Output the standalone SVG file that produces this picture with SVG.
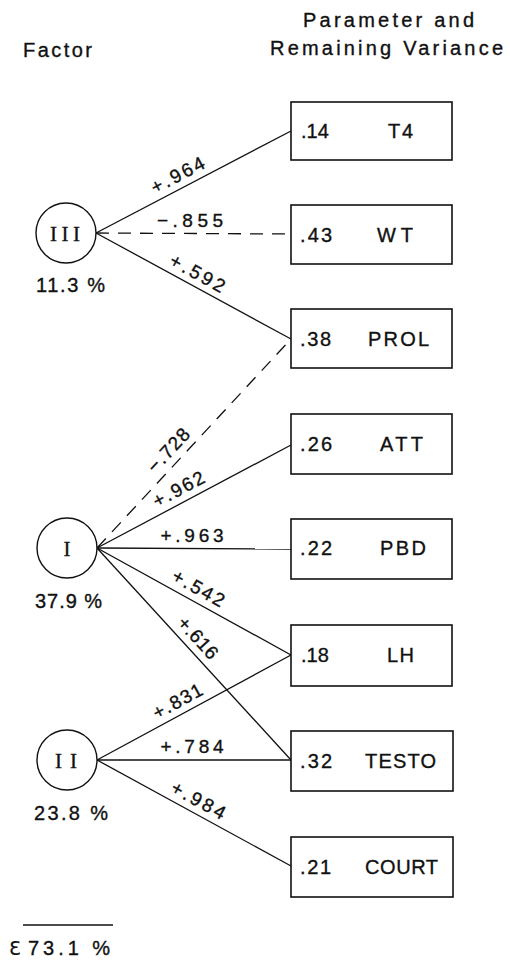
<svg xmlns="http://www.w3.org/2000/svg" width="510" height="961" viewBox="0 0 510 961">
<style>
  .t { font-family: "Liberation Sans", Arial, sans-serif; font-size: 20px; fill: #111; stroke: #111; stroke-width: 0.35; }
  .lbl { font-family: "Liberation Sans", Arial, sans-serif; font-size: 19px; fill: #111; stroke: #111; stroke-width: 0.35; }
  .rn { font-family: "Liberation Serif", "Times New Roman", serif; font-size: 21px; fill: #111; stroke: #111; stroke-width: 0.3; }
  .sig { font-family: "DejaVu Sans", sans-serif; font-size: 19px; fill: #111; stroke: #111; stroke-width: 0.2; }
  .box { fill: #fff; stroke: #111; stroke-width: 1.6; }
  .circ { fill: #fff; stroke: #111; stroke-width: 1.4; }
  .ln { stroke: #111; stroke-width: 1.3; fill: none; }
  .dash { stroke-dasharray: 13 9; }
</style>
<rect width="510" height="961" fill="#fff"/>

<g id="headers">
  <text class="t" x="23" y="57" textLength="69" lengthAdjust="spacing">Factor</text>
  <text class="t" x="303" y="27" textLength="171" lengthAdjust="spacing">Parameter and</text>
  <text class="t" x="270" y="55" textLength="233" lengthAdjust="spacing">Remaining Variance</text>
</g>

<g id="connectors">
  <line class="ln" x1="96" y1="233" x2="291" y2="131"/>
  <line class="ln dash" x1="96" y1="233" x2="291" y2="234"/>
  <line class="ln" x1="96" y1="233" x2="291" y2="339"/>
  <line class="ln dash" x1="97" y1="548" x2="291" y2="339"/>
  <line class="ln" x1="97" y1="548" x2="291" y2="445"/>
  <line class="ln" x1="97" y1="548" x2="291" y2="549"/>
  <line class="ln" x1="97" y1="548" x2="291" y2="655"/>
  <line class="ln" x1="97" y1="548" x2="291" y2="760"/>
  <line class="ln" x1="97" y1="760" x2="291" y2="655"/>
  <line class="ln" x1="97" y1="760" x2="291" y2="760"/>
  <line class="ln" x1="97" y1="760" x2="291" y2="866"/>

  <text class="lbl" text-anchor="middle" transform="translate(184,187) rotate(-27.6)" y="-7" textLength="58" lengthAdjust="spacing">+.964</text>
  <text class="lbl" text-anchor="middle" x="190" y="227" textLength="66" lengthAdjust="spacing">−.855</text>
  <text class="lbl" text-anchor="middle" transform="translate(191,285) rotate(28.8)" y="-7" textLength="60" lengthAdjust="spacing">+.592</text>
  <text class="lbl" text-anchor="middle" transform="translate(179,460) rotate(-47)" y="-8" textLength="53" lengthAdjust="spacing">−.728</text>
  <text class="lbl" text-anchor="middle" transform="translate(185,501) rotate(-28)" y="-7" textLength="56" lengthAdjust="spacing">+.962</text>
  <text class="lbl" text-anchor="middle" x="192" y="542" textLength="63" lengthAdjust="spacing">+.963</text>
  <text class="lbl" text-anchor="middle" transform="translate(192,600) rotate(28.9)" y="-7" textLength="57" lengthAdjust="spacing">+.542</text>
  <text class="lbl" text-anchor="middle" transform="translate(188,647) rotate(47.5)" y="-7" textLength="50" lengthAdjust="spacing">+.616</text>
  <text class="lbl" text-anchor="middle" transform="translate(184,713) rotate(-28.4)" y="-7" textLength="54" lengthAdjust="spacing">+.831</text>
  <text class="lbl" text-anchor="middle" x="192" y="753" textLength="63" lengthAdjust="spacing">+.784</text>
  <text class="lbl" text-anchor="middle" transform="translate(192,812) rotate(28.6)" y="-7" textLength="59" lengthAdjust="spacing">+.984</text>
</g>

<g id="factor-III">
  <circle class="circ" cx="66" cy="233" r="30"/>
  <text class="rn" text-anchor="middle" x="65" y="241" textLength="30" lengthAdjust="spacing">III</text>
  <text class="t" x="36" y="292" textLength="69" lengthAdjust="spacing">11.3 %</text>
</g>
<g id="factor-I">
  <circle class="circ" cx="67" cy="548" r="30"/>
  <text class="rn" text-anchor="middle" x="67" y="556">I</text>
  <text class="t" x="35" y="608" textLength="67" lengthAdjust="spacing">37.9 %</text>
</g>
<g id="factor-II">
  <circle class="circ" cx="67" cy="760" r="30"/>
  <text class="rn" text-anchor="middle" x="66" y="768" textLength="22" lengthAdjust="spacing">II</text>
  <text class="t" x="34" y="820" textLength="74" lengthAdjust="spacing">23.8 %</text>
</g>

<g id="param-T4">
  <rect class="box" x="291" y="102" width="161" height="58"/>
  <text class="t" x="301" y="138">.14</text>
  <text class="t" x="388" y="138" textLength="25" lengthAdjust="spacing">T4</text>
</g>
<g id="param-WT">
  <rect class="box" x="291" y="205" width="161" height="59"/>
  <text class="t" x="300" y="242" textLength="32" lengthAdjust="spacing">.43</text>
  <text class="t" x="377" y="242" textLength="36" lengthAdjust="spacing">WT</text>
</g>
<g id="param-PROL">
  <rect class="box" x="291" y="309" width="161" height="59"/>
  <text class="t" x="300" y="346" textLength="31" lengthAdjust="spacing">.38</text>
  <text class="t" x="368" y="346" textLength="61" lengthAdjust="spacing">PROL</text>
</g>
<g id="param-ATT">
  <rect class="box" x="291" y="414" width="161" height="60"/>
  <text class="t" x="300" y="451" textLength="32" lengthAdjust="spacing">.26</text>
  <text class="t" x="380" y="451" textLength="43" lengthAdjust="spacing">ATT</text>
</g>
<g id="param-PBD">
  <rect class="box" x="291" y="519" width="161" height="60"/>
  <text class="t" x="300" y="555" textLength="32" lengthAdjust="spacing">.22</text>
  <text class="t" x="380" y="555" textLength="46" lengthAdjust="spacing">PBD</text>
</g>
<g id="param-LH">
  <rect class="box" x="291" y="625" width="161" height="61"/>
  <text class="t" x="301" y="662">.18</text>
  <text class="t" x="387" y="662" textLength="27" lengthAdjust="spacing">LH</text>
</g>
<g id="param-TESTO">
  <rect class="box" x="291" y="731" width="162" height="60"/>
  <text class="t" x="300" y="768" textLength="32" lengthAdjust="spacing">.32</text>
  <text class="t" x="365" y="768" textLength="71" lengthAdjust="spacing">TESTO</text>
</g>
<g id="param-COURT">
  <rect class="box" x="291" y="837" width="162" height="60"/>
  <text class="t" x="300" y="874" textLength="31" lengthAdjust="spacing">.21</text>
  <text class="t" x="365" y="874" textLength="73" lengthAdjust="spacing">COURT</text>
</g>

<g id="total">
  <line class="ln" x1="23" y1="925" x2="113" y2="925"/>
  <text class="sig" x="9" y="955">Ɛ</text>
  <text class="t" x="28" y="955" textLength="82" lengthAdjust="spacing">73.1  %</text>
</g>
</svg>
